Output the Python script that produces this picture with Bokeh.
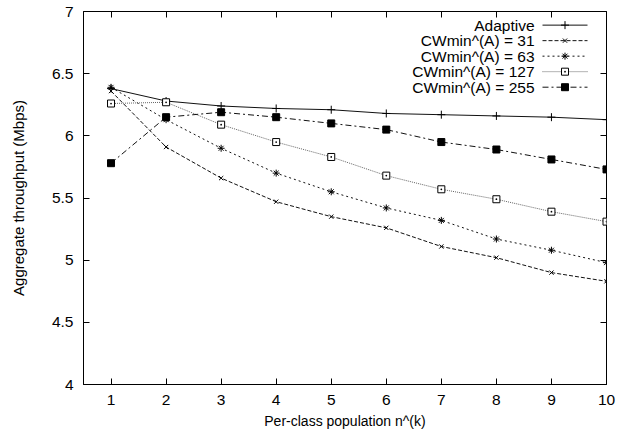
from bokeh.plotting import figure
from bokeh.models import Range1d, LinearAxis, FixedTicker, CustomLabelingPolicy
from bokeh.core.properties import value
from bokeh.embed import file_html
from bokeh.resources import INLINE

# ---- data ----
population = [1, 2, 3, 4, 5, 6, 7, 8, 9, 10]
adaptive = [6.38, 6.28, 6.24, 6.22, 6.21, 6.18, 6.17, 6.16, 6.15, 6.13]
cw31 = [6.36, 5.91, 5.66, 5.47, 5.35, 5.26, 5.11, 5.02, 4.90, 4.83]
cw63 = [6.39, 6.13, 5.90, 5.70, 5.55, 5.42, 5.32, 5.17, 5.08, 4.98]
cw127 = [6.26, 6.27, 6.09, 5.95, 5.83, 5.68, 5.57, 5.49, 5.39, 5.31]
cw255 = [5.78, 6.15, 6.19, 6.15, 6.10, 6.05, 5.95, 5.89, 5.81, 5.73]
series_labels = ["Adaptive", "CWmin^(A) = 31", "CWmin^(A) = 63",
                 "CWmin^(A) = 127", "CWmin^(A) = 255"]
x_ticks = [1, 2, 3, 4, 5, 6, 7, 8, 9, 10]
y_ticks = [4, 4.5, 5, 5.5, 6, 6.5, 7]
y_tick_labels = ["4", "4.5", "5", "5.5", "6", "6.5", "7"]

FONT = "Liberation Sans"
FRAME_W, FRAME_H = 523, 375

p = figure(width=629, height=436, output_backend="svg", toolbar_location=None,
           x_range=Range1d(0.5, 10), y_range=Range1d(4, 7),
           min_border_left=83, min_border_right=23, min_border_top=9,
           min_border_bottom=52)
p.xgrid.visible = False
p.ygrid.visible = False
p.outline_line_color = "black"
p.outline_line_width = 1
p.background_fill_color = "white"
p.border_fill_color = "white"

p.xaxis.ticker = FixedTicker(ticks=x_ticks)
p.yaxis.ticker = FixedTicker(ticks=y_ticks)
p.yaxis.major_label_overrides = {t: l for t, l in zip(y_ticks, y_tick_labels)}
for ax in (p.xaxis[0], p.yaxis[0]):
    ax.major_tick_in = 6
    ax.major_tick_out = 0
    ax.minor_tick_in = 0
    ax.minor_tick_out = 0
    ax.axis_line_color = "black"
    ax.major_tick_line_color = "black"
    ax.major_label_text_font = FONT
    ax.major_label_text_font_size = "15.5px"
    ax.major_label_text_color = "black"
    ax.axis_label_text_font = FONT
    ax.axis_label_text_font_style = "normal"
    ax.axis_label_text_color = "black"
p.xaxis.axis_label = "Per-class population n^(k)"
p.xaxis.axis_label_text_font_size = "14px"
p.xaxis.major_label_standoff = 10
p.xaxis.axis_label_standoff = 5
p.yaxis.axis_label = "Aggregate throughput (Mbps)"
p.yaxis.axis_label_text_font_size = "15px"
p.yaxis.major_label_standoff = 10
p.yaxis.axis_label_standoff = 22

# mirrored ticks on top and right (no labels)
no_labels = "for (const i of indices) { if (false) yield i }"
top = LinearAxis(ticker=FixedTicker(ticks=x_ticks),
                 major_label_policy=CustomLabelingPolicy(code=no_labels))
right = LinearAxis(ticker=FixedTicker(ticks=y_ticks),
                   major_label_policy=CustomLabelingPolicy(code=no_labels))
for ax in (top, right):
    ax.major_tick_in = 6
    ax.major_tick_out = 0
    ax.minor_tick_in = 0
    ax.minor_tick_out = 0
    ax.major_label_standoff = 0
    ax.axis_line_color = None
    ax.major_tick_line_color = "black"
p.add_layout(top, "above")
p.add_layout(right, "right")

styles = [
    dict(dash="solid", marker="cross", size=8, fill="black", color="#111111"),
    dict(dash="4 2", marker="x", size=6, fill="black", color="#111111"),
    dict(dash="2 3", marker="asterisk", size=7, fill="black", color="#111111"),
    dict(dash="1 1", marker="square_dot", size=7, fill="white", color="#666666"),
    dict(dash="6 3 2 3", marker="square", size=7, fill="black", color="#111111"),
]
data = [adaptive, cw31, cw63, cw127, cw255]

# legend drawn in frame-pixel coordinates (layout only)
p.extra_x_ranges = {"lx": Range1d(0, FRAME_W)}
p.extra_y_ranges = {"ly": Range1d(FRAME_H, 0)}
LEG_TEXT_X = 451
LEG_LINE_X0, LEG_LINE_X1 = 459, 504
LEG_Y0, LEG_DY = 13.7, 15.6

for i, (ys, st, lab) in enumerate(zip(data, styles, series_labels)):
    p.line(population, ys, line_color=st["color"], line_width=1, line_dash=st["dash"])
    p.scatter(population, ys, marker=st["marker"], size=st["size"],
              line_color="black", fill_color=st["fill"], line_width=1)
    ly = LEG_Y0 + i * LEG_DY
    p.text(x=[LEG_TEXT_X], y=[ly], text=[lab], x_range_name="lx", y_range_name="ly",
           text_font=value(FONT), text_font_size="15.5px", text_align="right",
           text_baseline="middle", text_color="black")
    p.line([LEG_LINE_X0, LEG_LINE_X1], [ly, ly], x_range_name="lx", y_range_name="ly",
           line_color=st["color"], line_width=1, line_dash=st["dash"])
    p.scatter([(LEG_LINE_X0 + LEG_LINE_X1) / 2], [ly], x_range_name="lx", y_range_name="ly",
              marker=st["marker"], size=st["size"], line_color="black",
              fill_color=st["fill"], line_width=1)

open("out.html", "w").write(file_html(p, INLINE))
